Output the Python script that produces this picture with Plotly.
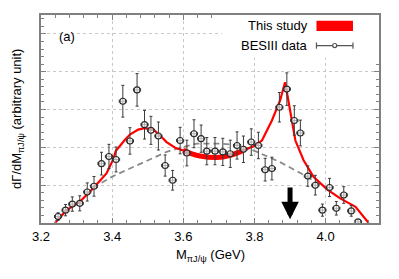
import plotly.graph_objects as go

# ---- data ----
data_x = [3.248, 3.269, 3.288, 3.309, 3.330, 3.349, 3.370, 3.391, 3.411, 3.430,
          3.450, 3.470, 3.491, 3.509, 3.530, 3.549, 3.570, 3.591, 3.610, 3.630,
          3.650, 3.666, 3.689, 3.711, 3.732, 3.751, 3.769, 3.791, 3.811, 3.830,
          3.849, 3.870, 3.891, 3.912, 3.929, 3.950, 3.971, 3.991, 4.011, 4.030,
          4.051, 4.072, 4.091]
data_y = [0.17, 0.34, 0.50, 0.52, 0.82, 0.97, 1.57, 1.76, 1.68, 3.22,
          2.17, 3.52, 2.60, 2.45, 2.30, 1.52, 1.13, 2.18, 1.85, 2.36,
          2.23, 1.90, 1.90, 1.88, 1.83, 2.05, 1.95, 2.14, 2.05, 1.41,
          1.44, 3.06, 3.54, 2.71, 2.38, 1.24, 1.00, 0.34, 0.94, 0.39,
          0.74, 0.32, 0.03]
data_err = [0.10, 0.15, 0.19, 0.20, 0.24, 0.26, 0.30, 0.32, 0.33, 0.42,
            0.35, 0.43, 0.38, 0.37, 0.37, 0.28, 0.26, 0.35, 0.34, 0.37,
            0.36, 0.36, 0.36, 0.36, 0.36, 0.36, 0.35, 0.35, 0.35, 0.30,
            0.30, 0.39, 0.43, 0.39, 0.34, 0.27, 0.26, 0.16, 0.24, 0.18,
            0.22, 0.14, 0.06]
bin_half = [0.01] * len(data_x)

fit_x = [3.239, 3.272, 3.309, 3.346, 3.384, 3.394, 3.403, 3.410, 3.420, 3.436,
         3.450, 3.473, 3.492, 3.516, 3.534, 3.553, 3.577, 3.600, 3.624, 3.647,
         3.694, 3.732, 3.769, 3.797, 3.821, 3.849, 3.872, 3.886, 3.892, 3.902,
         3.915, 3.938, 3.966, 4.004, 4.041, 4.084, 4.098, 4.121]
fit_y = [0.00, 0.34, 0.56, 0.91, 1.31, 1.50, 1.68, 1.90, 2.02, 2.20,
         2.34, 2.47, 2.51, 2.47, 2.32, 2.14, 1.99, 1.92, 1.83, 1.77,
         1.73, 1.79, 1.92, 2.03, 2.18, 2.71, 3.24, 3.72, 3.41, 2.89,
         2.18, 1.66, 1.22, 0.89, 0.65, 0.43, 0.26, 0.00]

bg_x = [3.346, 3.365, 3.403, 3.459, 3.506, 3.553, 3.591, 3.638, 3.703, 3.760,
        3.807, 3.872, 3.929, 3.966, 3.985]
bg_y = [0.93, 1.04, 1.24, 1.48, 1.68, 1.88, 1.99, 2.10, 2.10, 2.05,
        1.88, 1.61, 1.32, 1.11, 1.02]

arrow_x = 3.9
arrow_top = 0.98
arrow_tip = 0.10

x_ticks = [3.2, 3.4, 3.6, 3.8, 4.0]
x_labels = ["3.2", "3.4", "3.6", "3.8", "4.0"]

FONT = "Liberation Sans, Arial, sans-serif"
FS = 13

fig = go.Figure()

# background (dashed)
fig.add_trace(go.Scatter(x=bg_x, y=bg_y, mode="lines",
                         line=dict(color="#8a8a8a", width=1.8, dash="6px,4px"),
                         hoverinfo="skip", showlegend=False))

# fit curve
fig.add_trace(go.Scatter(x=fit_x, y=fit_y, mode="lines",
                         line=dict(color="#ff0000", width=2.2),
                         showlegend=False))
thick_x = [x for x in fit_x if 3.59 <= x <= 3.78]
thick_y = [y for x, y in zip(fit_x, fit_y) if 3.59 <= x <= 3.78]
fig.add_trace(go.Scatter(x=thick_x, y=thick_y, mode="lines",
                         line=dict(color="#ff0000", width=5, shape="spline"),
                         showlegend=False))

# data points
fig.add_trace(go.Scatter(
    x=data_x, y=data_y, mode="markers",
    marker=dict(symbol="circle", size=6, color="rgba(255,255,255,0.6)",
                line=dict(width=1.1, color="#2a2a2a")),
    error_y=dict(type="data", array=data_err, color="#3a3a3a", thickness=1, width=1.5),
    error_x=dict(type="data", array=bin_half, color="#3a3a3a", thickness=1, width=1.5),
    showlegend=False))

shapes = []
# legend background
shapes.append(dict(type="rect", xref="paper", yref="paper",
                   x0=0.535, x1=1.0, y0=0.795, y1=1.0,
                   fillcolor="white", line=dict(width=0), layer="above"))
# legend: red box
shapes.append(dict(type="rect", xref="paper", yref="paper",
                   x0=0.815, x1=0.923, y0=0.923, y1=0.972,
                   fillcolor="#ff0000", line=dict(width=0), layer="above"))
# legend: data symbol
shapes.append(dict(type="line", xref="paper", yref="paper",
                   x0=0.815, x1=0.923, y0=0.853, y1=0.853,
                   line=dict(color="#555555", width=1.2), layer="above"))
for xc in (0.815, 0.923):
    shapes.append(dict(type="line", xref="paper", yref="paper",
                       x0=xc, x1=xc, y0=0.838, y1=0.868,
                       line=dict(color="#555555", width=1.2), layer="above"))
shapes.append(dict(type="circle", xref="paper", yref="paper",
                   x0=0.863, x1=0.875, y0=0.843, y1=0.863,
                   fillcolor="white", line=dict(color="#555555", width=1.2), layer="above"))

annotations = [
    dict(text="This study", xref="paper", yref="paper", x=0.795, y=0.948,
         xanchor="right", yanchor="middle", showarrow=False,
         font=dict(family=FONT, size=FS, color="black")),
    dict(text="BESIII data", xref="paper", yref="paper", x=0.795, y=0.853,
         xanchor="right", yanchor="middle", showarrow=False,
         font=dict(family=FONT, size=FS, color="black")),
    dict(text="(a)", xref="paper", yref="paper", x=0.048, y=0.895,
         xanchor="left", yanchor="middle", showarrow=False,
         font=dict(family=FONT, size=FS, color="black")),
    # axis titles
    dict(text="M<sub>πJ/ψ</sub> (GeV)", xref="paper", yref="paper", x=0.5, y=0,
         yshift=-32, xanchor="center", yanchor="middle", showarrow=False,
         font=dict(family=FONT, size=FS, color="black")),
    dict(text="dΓ/dM<sub>πJ/ψ</sub> (arbitrary unit)", xref="paper", yref="paper",
         x=0, y=0.5, xshift=-24, xanchor="center", yanchor="middle",
         textangle=-90, showarrow=False,
         font=dict(family=FONT, size=FS, color="black")),
    dict(x=arrow_x, y=arrow_tip, ax=arrow_x, ay=arrow_top,
         xref="x", yref="y", axref="x", ayref="y",
         showarrow=True, arrowhead=2, arrowwidth=5, arrowsize=0.7,
         arrowcolor="black", text=""),
]

fig.update_layout(
    template="none",
    width=391, height=271,
    margin=dict(l=33, r=20, t=7, b=56, pad=0),
    paper_bgcolor="white", plot_bgcolor="white",
    font=dict(family=FONT, size=FS, color="black"),
    shapes=shapes, annotations=annotations,
    showlegend=False,
)

fig.update_xaxes(
    automargin=False,
    range=[3.2, 4.15], tickvals=x_ticks, ticktext=x_labels,
    showline=True, linecolor="#808080", linewidth=2, mirror="allticks",
    ticks="inside", ticklen=5, tickcolor="#808080", tickwidth=1,
    showgrid=True, gridcolor="#c8c8c8", griddash="dot", gridwidth=1,
    zeroline=False,
    minor=dict(dtick=0.04, ticks="inside", ticklen=3, tickcolor="#808080", showgrid=False),
    tickfont=dict(size=FS),
)
fig.update_yaxes(
    automargin=False,
    range=[0, 5.5], tickvals=[0, 1, 2, 3, 4, 5], showticklabels=False,
    showline=True, linecolor="#808080", linewidth=2, mirror="allticks",
    ticks="inside", ticklen=5, tickcolor="#808080", tickwidth=1,
    showgrid=True, gridcolor="#c8c8c8", griddash="dot", gridwidth=1,
    zeroline=False,
    minor=dict(dtick=0.2, ticks="inside", ticklen=3, tickcolor="#808080", showgrid=False),
)

fig.write_html("out.html")
